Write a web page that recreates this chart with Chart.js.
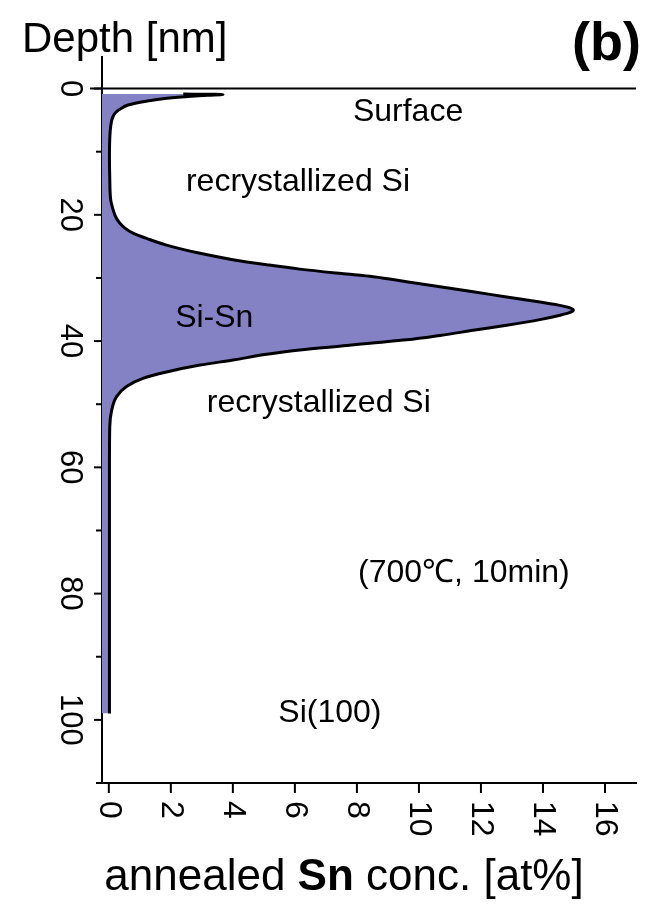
<!DOCTYPE html>
<html>
<head>
<meta charset="utf-8">
<script src="https://cdn.jsdelivr.net/npm/chart.js@4.4.1/dist/chart.umd.min.js"></script>
<style>
  html, body { margin: 0; padding: 0; background: #fff; }
  #wrap { position: relative; width: 651px; height: 909px; }
</style>
</head>
<body>
<div id="wrap"><canvas id="profile"></canvas></div>
<script>
// Sn depth profile after annealing, depth in nm vs Sn concentration in at%
const depthNm = [0.85, 0.95, 1.05, 1.3, 1.6, 2.0, 2.6, 3.2, 3.8, 4.6, 6, 8, 11, 14, 17.6,
  19.2, 20.3, 21.3, 22.1, 22.9, 23.8, 24.8, 26.1, 27.1, 27.9, 28.6, 29.3, 29.8, 30.6, 31.4,
  32.2, 33.0, 33.8, 34.3, 34.7, 35.1, 35.5, 35.9, 36.6, 37.5, 38.3, 39.1, 39.8, 40.3, 40.7,
  41.4, 42.1, 43.0, 43.8, 44.9, 45.9, 47.2, 48.8, 51, 53.6, 60, 70, 80, 90, 99];
const snConc = [2.4, 3.68, 3.2, 2.45, 1.75, 1.2, 0.62, 0.38, 0.22, 0.12, 0.06, 0.03, 0.02, 0.03, 0.06,
  0.14, 0.22, 0.35, 0.52, 0.78, 1.25, 1.86, 2.94, 4.0, 5.09, 6.16, 7.5, 8.53, 9.6, 10.68,
  11.75, 12.83, 13.9, 14.5, 14.85, 14.98, 14.85, 14.55, 13.9, 12.83, 11.75, 10.68, 9.6, 8.5, 7.67,
  6.16, 5.09, 4.0, 2.94, 1.86, 1.1, 0.57, 0.25, 0.09, 0.03, 0.02, 0.02, 0.02, 0.02, 0.02];

const xTicks = [0, 2, 4, 6, 8, 10, 12, 14, 16];
const yTicks = [0, 20, 40, 60, 80, 100];
const yMinorTicks = [10, 30, 50, 70, 90];
const X_MIN = -0.22, X_MAX = 17;
const Y_MIN = -5, Y_MAX = 110;

// text labels placed inside the plot: [text, conc, depth]
const notes = [
  ['Surface', 9.65, 3.7],
  ['recrystallized Si', 6.1, 14.9],
  ['Si-Sn', 3.4, 36.3],
  ['recrystallized Si', 6.77, 49.8],
  ['(700\u2103, 10min)', 11.45, 76.7],
  ['Si(100)', 7.13, 99]
];

const FONT = '"Liberation Sans", Arial, sans-serif';

const overlay = {
  id: 'overlay',
  afterDraw(chart) {
    const { ctx, chartArea: a } = chart;
    const x = chart.scales.x, y = chart.scales.y;
    ctx.save();
    ctx.strokeStyle = '#000';
    ctx.fillStyle = '#000';
    ctx.lineWidth = 2;

    const seg = (x1, y1, x2, y2) => {
      ctx.beginPath(); ctx.moveTo(x1, y1); ctx.lineTo(x2, y2); ctx.stroke();
    };

    // surface line at depth 0, x axis stub left of the y axis
    const y0 = y.getPixelForValue(0);
    seg(a.left - 12, y0, a.right, y0);
    seg(a.left - 6, a.bottom, a.left, a.bottom);

    // y ticks + rotated labels
    ctx.font = '31px ' + FONT;
    yTicks.forEach(v => {
      const py = y.getPixelForValue(v);
      seg(a.left - 8, py, a.left, py);
      ctx.save();
      ctx.translate(70, py);
      ctx.rotate(Math.PI / 2);
      ctx.textAlign = 'center';
      ctx.textBaseline = 'middle';
      ctx.fillText(String(v), 0, 0);
      ctx.restore();
    });
    yMinorTicks.forEach(v => {
      const py = y.getPixelForValue(v);
      seg(a.left - 6, py, a.left, py);
    });

    // x ticks + rotated labels
    ctx.font = '32px ' + FONT;
    xTicks.forEach(v => {
      const px = x.getPixelForValue(v);
      seg(px, a.bottom, px, a.bottom + 10);
      ctx.save();
      ctx.translate(px, a.bottom + 18);
      ctx.rotate(Math.PI / 2);
      ctx.textAlign = 'left';
      ctx.textBaseline = 'middle';
      ctx.fillText(String(v), 0, 0);
      ctx.restore();
    });

    // notes
    ctx.font = '32px ' + FONT;
    ctx.textAlign = 'center';
    ctx.textBaseline = 'middle';
    notes.forEach(([t, cx, cy]) => {
      ctx.fillText(t, x.getPixelForValue(cx), y.getPixelForValue(cy));
    });

    // axis titles
    ctx.textBaseline = 'alphabetic';
    ctx.textAlign = 'left';
    ctx.font = '42px ' + FONT;
    ctx.fillText('Depth [nm]', 22, 52);

    ctx.textAlign = 'right';
    ctx.font = 'bold 54px ' + FONT;
    ctx.fillText('(b)', 641, 60);

    const parts = [['annealed ', '44px '], ['Sn', 'bold 44px '], [' conc. [at%]', '44px ']];
    let total = 0;
    parts.forEach(([t, f]) => { ctx.font = f + FONT; total += ctx.measureText(t).width; });
    let cx = 344 - total / 2;
    ctx.textAlign = 'left';
    parts.forEach(([t, f]) => {
      ctx.font = f + FONT;
      ctx.fillText(t, cx, 890);
      cx += ctx.measureText(t).width;
    });
    ctx.restore();
  }
};

new Chart(document.getElementById('profile').getContext('2d'), {
  type: 'line',
  data: {
    datasets: [{
      data: depthNm.map((d, i) => ({ x: snConc[i], y: d })),
      borderColor: '#000',
      borderWidth: 3,
      backgroundColor: '#8482c4',
      fill: { value: X_MIN },
      pointRadius: 0,
      cubicInterpolationMode: 'monotone'
    }]
  },
  options: {
    indexAxis: 'y',
    responsive: true,
    maintainAspectRatio: false,
    animation: false,
    layout: { padding: { left: 102, top: 57, right: 15, bottom: 126 } },
    scales: {
      x: {
        type: 'linear', min: X_MIN, max: X_MAX,
        grid: { display: false },
        border: { display: true, color: '#000', width: 2 },
        ticks: { display: false },
        afterFit(s) { s.height = 0; }
      },
      y: {
        type: 'linear', reverse: true, min: Y_MIN, max: Y_MAX,
        grid: { display: false },
        border: { display: true, color: '#000', width: 2 },
        ticks: { display: false },
        afterFit(s) { s.width = 0; }
      }
    },
    plugins: { legend: { display: false }, tooltip: { enabled: false } }
  },
  plugins: [overlay]
});
</script>
</body>
</html>
